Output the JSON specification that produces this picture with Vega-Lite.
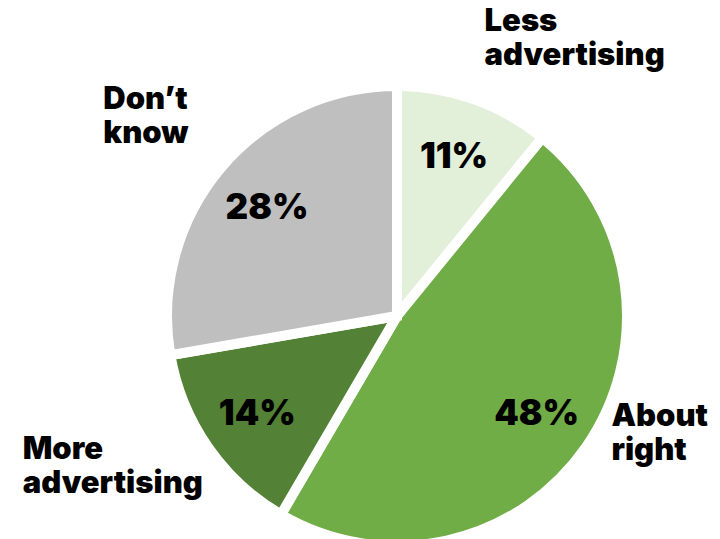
{
  "$schema": "https://vega.github.io/schema/vega-lite/v6.json",
  "width": 440,
  "height": 440,
  "autosize": "none",
  "padding": {"left": 177, "top": 96, "right": 103, "bottom": 3},
  "background": "white",
  "config": {"view": {"stroke": null}},
  "data": {
    "values": [
      {"k": 1, "category": "Less advertising", "share": 0.11},
      {"k": 2, "category": "About right", "share": 0.48},
      {"k": 3, "category": "More advertising", "share": 0.14},
      {"k": 4, "category": "Don’t know", "share": 0.28}
    ]
  },
  "encoding": {
    "theta": {"field": "share", "type": "quantitative", "stack": true},
    "order": {"field": "k", "type": "quantitative"}
  },
  "layer": [
    {
      "mark": {"type": "arc", "outerRadius": 230, "stroke": "white", "strokeWidth": 10},
      "encoding": {
        "color": {
          "field": "category",
          "type": "nominal",
          "scale": {
            "domain": ["Less advertising", "About right", "More advertising", "Don’t know"],
            "range": ["#e2efd9", "#70ad47", "#538135", "#bfbfbf"]
          },
          "legend": null
        }
      }
    },
    {
      "mark": {"type": "text", "radius": 170, "align": "center", "baseline": "middle", "font": "Inter", "fontWeight": 900, "fontSize": 35, "color": "black", "dy": 1},
      "encoding": {
        "text": {"field": "share", "type": "quantitative", "format": ".0%"}
      }
    },
    {
      "mark": {"type": "text", "radius": 329, "align": "left", "baseline": "middle", "font": "Inter", "fontWeight": 900, "fontSize": 31, "lineHeight": 34, "lineBreak": " ", "color": "black", "dx": -42, "dy": -4},
      "encoding": {
        "text": {
          "condition": {"test": "datum.k == 4", "field": "category", "type": "nominal"},
          "value": ""
        }
      }
    },
    {
      "mark": {"type": "text", "radius": 318, "align": "left", "baseline": "middle", "font": "Inter", "fontWeight": 900, "fontSize": 31, "lineHeight": 34, "lineBreak": " ", "color": "black", "dx": -113, "dy": -47},
      "encoding": {
        "text": {
          "condition": {"test": "datum.k == 3", "field": "category", "type": "nominal"},
          "value": ""
        }
      }
    },
    {
      "mark": {"type": "text", "radius": 261, "align": "left", "baseline": "bottom", "font": "Inter", "fontWeight": 900, "fontSize": 31, "lineHeight": 34, "lineBreak": " ", "color": "black", "dy": -32},
      "encoding": {
        "text": {
          "condition": {"test": "datum.k <= 2", "field": "category", "type": "nominal"},
          "value": ""
        }
      }
    }
  ]
}
